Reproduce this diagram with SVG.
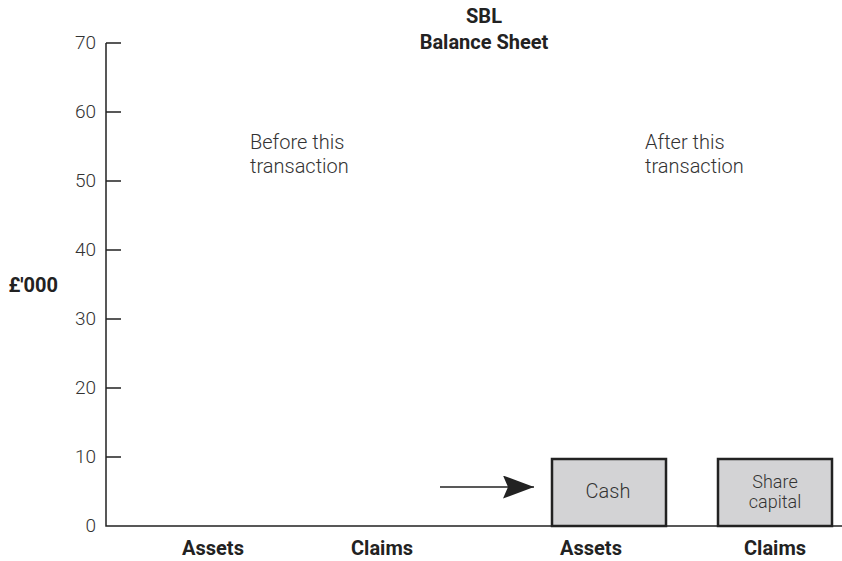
<svg xmlns="http://www.w3.org/2000/svg" width="842" height="561" viewBox="0 0 842 561">
<style>
.t{font-family:Roboto,"Liberation Sans",sans-serif;font-weight:300;font-size:20px;fill:#333}
.tk{text-anchor:end;font-size:19px}
.b{font-family:Roboto,"Liberation Sans",sans-serif;font-weight:700;font-size:20px;fill:#222;text-anchor:middle}
.ax{stroke:#222;stroke-width:1.5;fill:none}
.box{fill:#d3d3d5;stroke:#222;stroke-width:2.5}
.c{text-anchor:middle}
.s{font-size:18px}
</style>
<defs>
<marker id="ah" markerWidth="31" markerHeight="23" refX="31" refY="11.5" orient="auto" markerUnits="userSpaceOnUse" viewBox="0 0 31 23">
<path d="M0,0 L31,11.5 L0,23 L5,11.5 Z" fill="#222"/>
</marker>
</defs>
<g id="title">
<text class="b" x="484" y="23">SBL</text>
<text class="b" x="484" y="49">Balance Sheet</text>
</g>
<g id="axes">
<path class="ax" d="M106,43 V526 H842"/>
<path class="ax" d="M106,43 H121 M106,112 H121 M106,181 H121 M106,250 H121 M106,319 H121 M106,388 H121 M106,457 H121"/>
<text class="t tk" x="96" y="49">70</text>
<text class="t tk" x="96" y="118">60</text>
<text class="t tk" x="96" y="187">50</text>
<text class="t tk" x="96" y="256">40</text>
<text class="t tk" x="96" y="325">30</text>
<text class="t tk" x="96" y="394">20</text>
<text class="t tk" x="96" y="463">10</text>
<text class="t tk" x="96" y="532">0</text>
<text class="b" x="58" y="292" style="text-anchor:end">£'000</text>
<text class="b" x="213" y="555">Assets</text>
<text class="b" x="382" y="555">Claims</text>
<text class="b" x="591" y="555">Assets</text>
<text class="b" x="775" y="555">Claims</text>
</g>
<g id="before">
<text class="t" x="250" y="149">Before this</text>
<text class="t" x="250" y="173">transaction</text>
</g>
<g id="after">
<text class="t" x="645" y="149">After this</text>
<text class="t" x="645" y="173">transaction</text>
</g>
<g id="cash">
<rect class="box" x="552" y="459" width="114" height="67"/>
<text class="t c" x="608" y="498">Cash</text>
</g>
<g id="share-capital">
<rect class="box" x="718" y="459" width="114" height="67"/>
<text class="t c s" x="775" y="488">Share</text>
<text class="t c s" x="775" y="508">capital</text>
</g>
<g id="connectors">
<path d="M440,487 H534" stroke="#222" stroke-width="1.5" marker-end="url(#ah)"/>
</g>
</svg>
